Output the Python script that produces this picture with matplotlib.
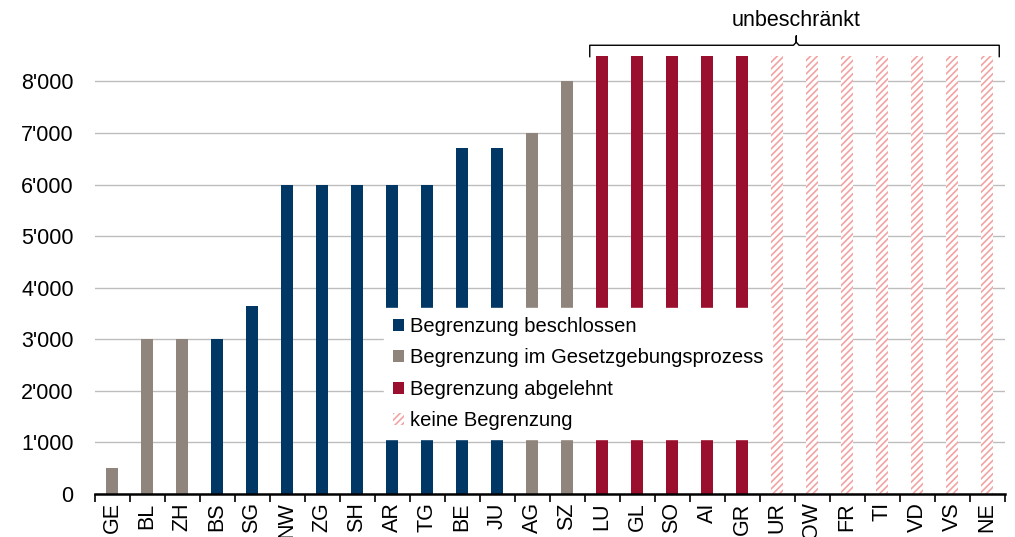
import matplotlib

matplotlib.use("Agg")

import matplotlib.pyplot as plt
from matplotlib.patches import Patch
from matplotlib.ticker import FuncFormatter

plt.rcParams["font.family"] = ["Liberation Sans", "DejaVu Sans"]

cantons = ["GE", "BL", "ZH", "BS", "SG", "NW", "ZG", "SH", "AR", "TG", "BE", "JU", "AG",
           "SZ", "LU", "GL", "SO", "AI", "GR", "UR", "OW", "FR", "TI", "VD", "VS", "NE"]
values = [500, 3000, 3000, 3000, 3650, 6000, 6000, 6000, 6000, 6000, 6700, 6700, 7000,
          8000, 8500, 8500, 8500, 8500, 8500, 8500, 8500, 8500, 8500, 8500, 8500, 8500]
status = ["prozess", "prozess", "prozess", "beschlossen", "beschlossen", "beschlossen",
          "beschlossen", "beschlossen", "beschlossen", "beschlossen", "beschlossen",
          "beschlossen", "prozess", "prozess", "abgelehnt", "abgelehnt", "abgelehnt",
          "abgelehnt", "abgelehnt", "keine", "keine", "keine", "keine", "keine", "keine", "keine"]
legend_labels = {
    "beschlossen": "Begrenzung beschlossen",
    "prozess": "Begrenzung im Gesetzgebungsprozess",
    "abgelehnt": "Begrenzung abgelehnt",
    "keine": "keine Begrenzung",
}
brace_label = "unbeschränkt"

COLORS = {"beschlossen": "#003764", "prozess": "#8f857c", "abgelehnt": "#9b0f2e", "keine": "#f2a3a3"}

plt.rcParams["hatch.linewidth"] = 1.2

fig = plt.figure(figsize=(10.15, 5.37), dpi=100)
ax = fig.add_axes([94.5 / 1015, 43 / 537, 910 / 1015, 490 / 537])

x = list(range(len(cantons)))
for xi, val, st in zip(x, values, status):
    if st == "keine":
        ax.bar(xi, val, width=0.35, facecolor="white", edgecolor=COLORS[st], hatch="/////",
               linewidth=0, zorder=2)
    else:
        ax.bar(xi, val, width=0.35, color=COLORS[st], linewidth=0, zorder=2)

ax.set_xlim(-0.5, len(cantons) - 0.5)
ax.set_ylim(0, 9500)
ax.set_yticks(range(0, 9000, 1000))
ax.yaxis.set_major_formatter(FuncFormatter(lambda v, _: f"{int(v):,}".replace(",", "'")))
ax.grid(axis="y", color="#bdbdbd", linewidth=1, zorder=0)
ax.set_axisbelow(True)

ax.set_xticks(x)
ax.set_xticklabels(cantons, rotation=90, fontsize=15.5)
ax.tick_params(axis="x", length=0, pad=6)
ax.set_xticks([i - 0.5 for i in range(len(cantons) + 1)], minor=True)
ax.tick_params(axis="x", which="minor", length=6, width=1.2, color="black")
ax.tick_params(axis="y", length=0, labelsize=15.5, pad=15)

for side in ["top", "right", "left"]:
    ax.spines[side].set_visible(False)
ax.spines["bottom"].set_linewidth(1.8)

# brace over the unrestricted cantons
bx0, bx1, bmid = 13.65, 25.35, 19.55
yb, yend, ytip = 8700, 8480, 8880
ax.plot([bx0, bx0, bmid - 0.08, bmid, bmid, bmid, bmid + 0.08, bx1, bx1],
        [yend, yb, yb, yb + 60, ytip, yb + 60, yb, yb, yend],
        color="black", linewidth=1, clip_on=False)
ax.text(bmid, 9180, brace_label, ha="center", va="center", fontsize=15.5)

handles = []
for key in ["beschlossen", "prozess", "abgelehnt", "keine"]:
    if key == "keine":
        handles.append(Patch(facecolor="white", edgecolor=COLORS[key], hatch="/////",
                             linewidth=0, label=legend_labels[key]))
    else:
        handles.append(Patch(facecolor=COLORS[key], linewidth=0, label=legend_labels[key]))
leg = ax.legend(handles=handles, loc="upper left", bbox_to_anchor=(0.318, 0.380),
                fontsize=14.5, frameon=True, fancybox=False, framealpha=1, edgecolor="white",
                handlelength=0.55, handleheight=0.55, handletextpad=0.3, labelspacing=0.62,
                borderpad=0.45, borderaxespad=0)
leg.set_zorder(5)

fig.savefig("out.png", dpi=100)
